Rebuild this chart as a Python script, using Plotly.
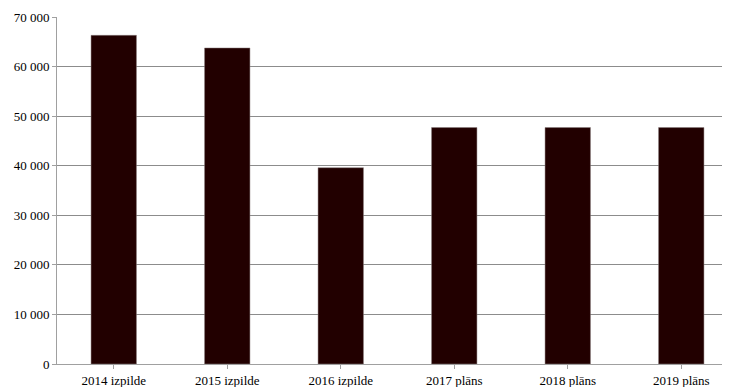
import plotly.graph_objects as go

categories = ["2014 izpilde", "2015 izpilde", "2016 izpilde", "2017 plāns", "2018 plāns", "2019 plāns"]
values = [66300, 63750, 39600, 47700, 47700, 47700]
y_ticks = [0, 10000, 20000, 30000, 40000, 50000, 60000, 70000]

fig = go.Figure(go.Bar(
    x=list(range(len(categories))), y=values,
    marker=dict(color="#220000", line=dict(color="#8a7f7f", width=0.5)),
    width=0.4,
))

# page body has an 8px margin, so margins are offset accordingly
fig.update_layout(
    width=730, height=387,
    margin=dict(l=49, r=0, t=9, b=31, autoexpand=False),
    paper_bgcolor="white", plot_bgcolor="white",
    separators=", ",
    font=dict(family="Liberation Serif", size=13, color="#000000"),
    showlegend=False,
)
fig.update_xaxes(
    range=[-0.5, 5.5], automargin=False,
    tickmode="array", tickvals=list(range(len(categories))), ticktext=categories,
    tickson="boundaries", ticks="outside", ticklen=4, tickcolor="#a0a0a0",
    showline=True, linecolor="#a0a0a0", linewidth=1,
    showgrid=False, zeroline=False,
    tickfont=dict(size=13),
)
fig.update_yaxes(
    range=[0, 70000], tickvals=y_ticks, tickformat=",d", automargin=False,
    ticks="outside", ticklen=4, tickcolor="#a0a0a0",
    showline=True, linecolor="#a0a0a0", linewidth=1,
    showgrid=True, gridcolor="#8c8c8c", gridwidth=1,
    zeroline=False,
    tickfont=dict(size=13),
)

fig.write_html("out.html", config={"displayModeBar": False})
